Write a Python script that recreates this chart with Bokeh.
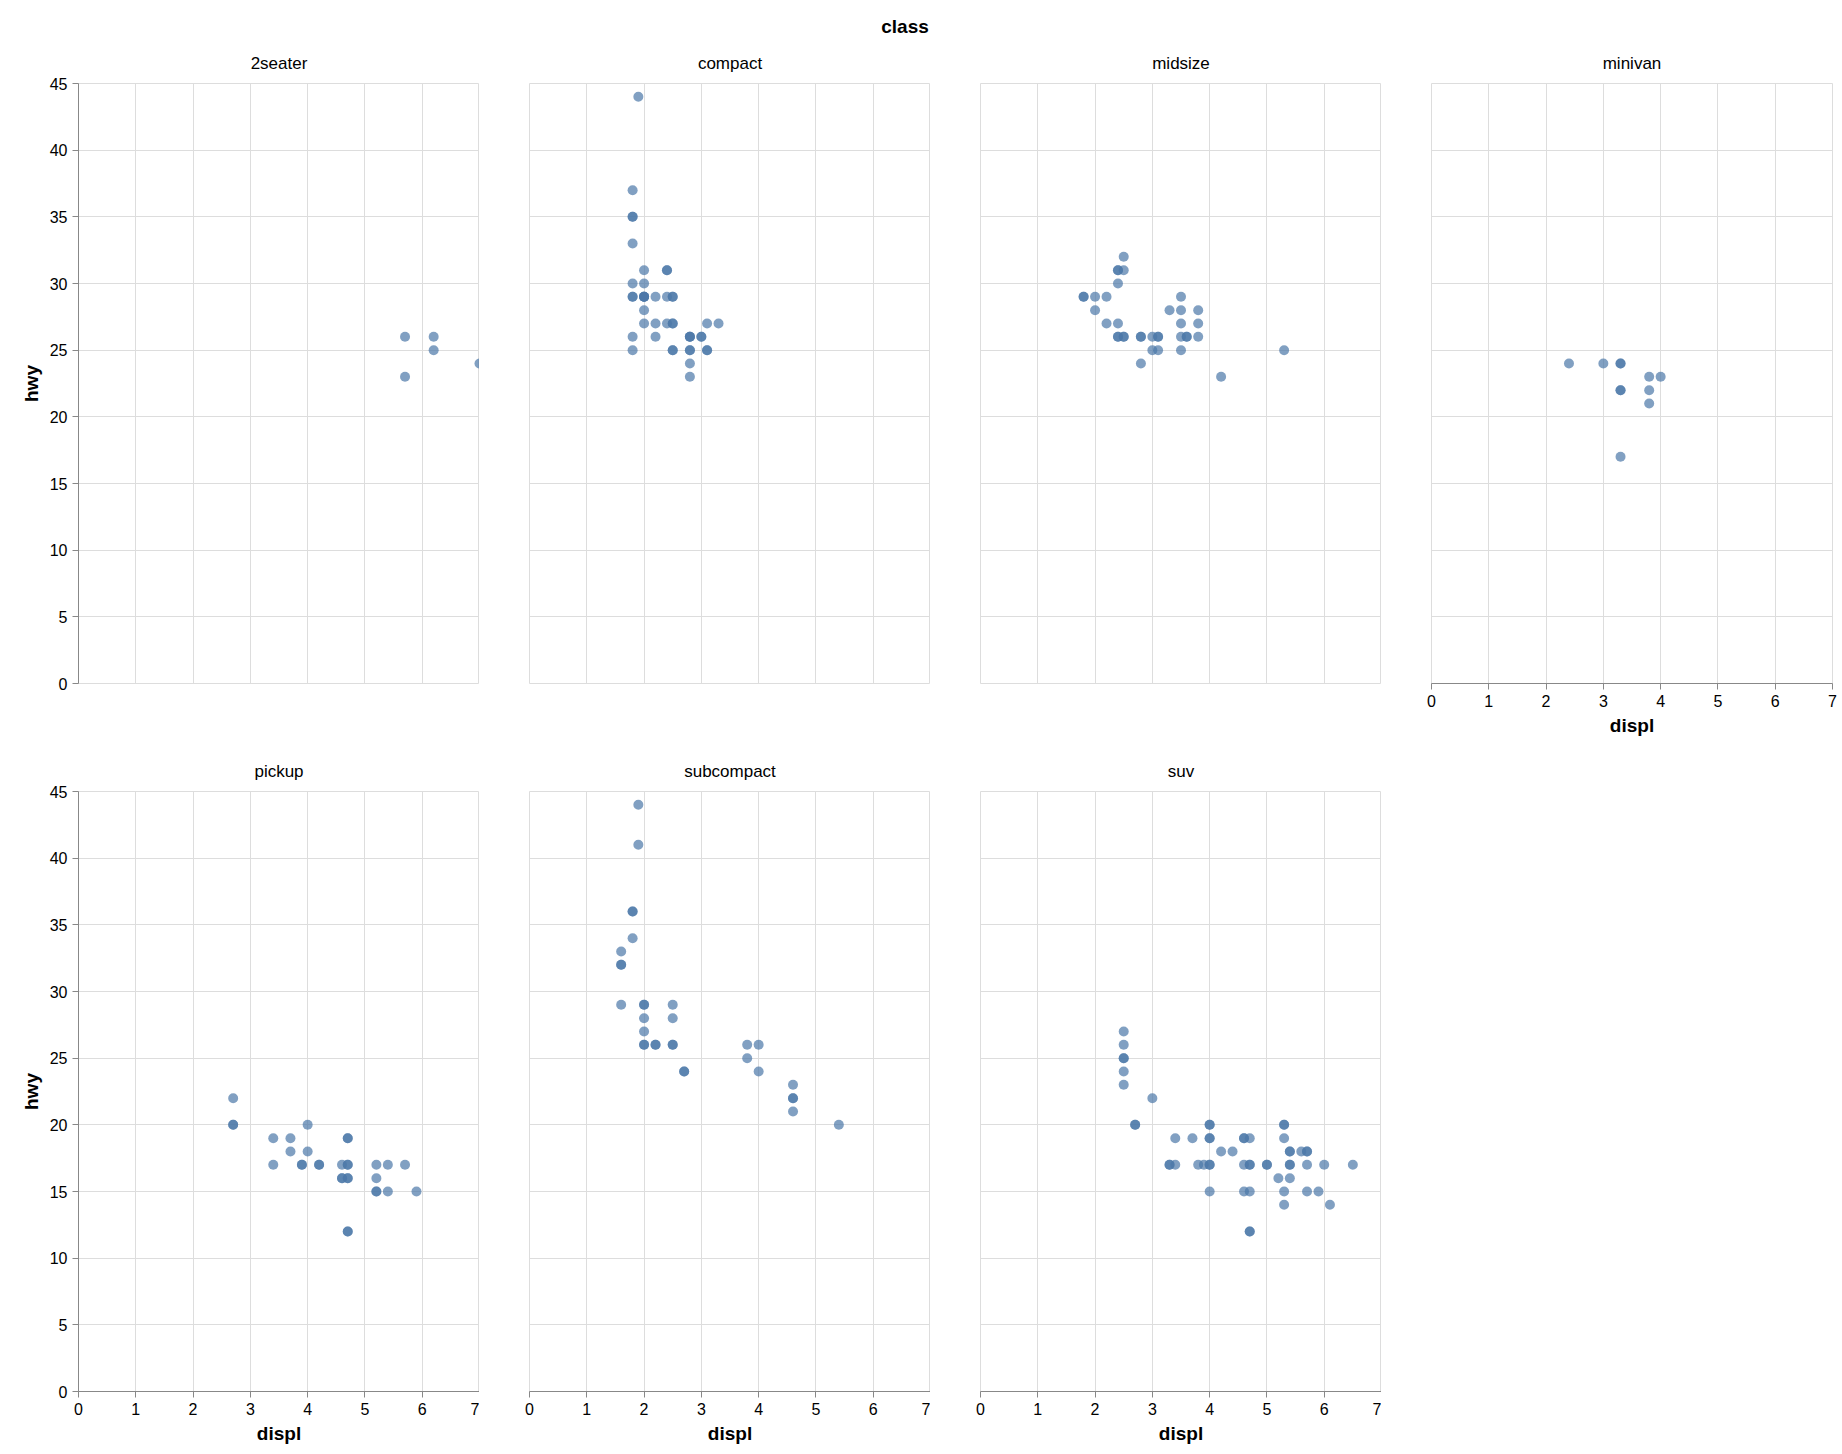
from bokeh.plotting import figure
from bokeh.layouts import gridplot, column
from bokeh.models import Div, FixedTicker
from bokeh.embed import file_html
from bokeh.resources import INLINE

classes = ["2seater", "compact", "midsize", "minivan", "pickup", "subcompact", "suv"]

seater_displ = [5.7, 5.7, 6.2, 6.2, 7.0]
seater_hwy = [26, 23, 26, 25, 24]

compact_displ = [1.8, 1.8, 2.0, 2.0, 2.8, 2.8, 3.1, 1.8, 1.8, 2.0, 2.0, 2.8, 2.8, 3.1, 3.1, 2.2, 2.2, 2.4, 2.4, 3.0, 3.0, 3.3,
                 1.8, 1.8, 1.8, 1.9, 2.0, 2.0, 2.0, 2.0, 2.5, 2.5, 2.5, 2.5, 2.8, 2.8, 2.2, 1.8, 1.8, 2.4, 2.4, 2.5, 2.5, 2.8]
compact_hwy = [29, 29, 31, 30, 26, 26, 27, 26, 25, 28, 27, 25, 25, 25, 25, 26, 27, 31, 31, 26, 26, 27,
               35, 37, 35, 44, 29, 29, 29, 29, 29, 27, 27, 25, 23, 24, 29, 33, 30, 27, 29, 29, 25, 26]

midsize_displ = [1.8, 1.8, 2.0, 2.0, 2.2, 2.2, 2.4, 2.4, 2.4, 2.4, 2.4, 2.5, 2.5, 2.5, 2.5, 2.8, 2.8, 2.8, 3.0, 3.0, 3.1, 3.1, 3.1,
                 3.3, 3.5, 3.5, 3.5, 3.5, 3.5, 3.6, 3.6, 3.8, 3.8, 3.8, 4.2, 5.3, 2.4]
midsize_hwy = [29, 29, 28, 29, 27, 29, 31, 30, 31, 27, 26, 32, 31, 26, 26, 26, 24, 26, 26, 25, 26, 25, 26,
               28, 29, 27, 28, 26, 25, 26, 26, 28, 27, 26, 23, 25, 26]

minivan_displ = [2.4, 3.0, 3.3, 3.3, 3.3, 3.3, 3.3, 3.8, 3.8, 3.8, 4.0]
minivan_hwy = [24, 24, 24, 24, 22, 22, 17, 22, 21, 23, 23]

pickup_displ = [2.7, 2.7, 2.7, 3.4, 3.4, 3.7, 3.7, 3.9, 3.9, 4.0, 4.0, 4.2, 4.2, 4.6, 4.6, 4.7, 4.7, 4.7, 4.7, 4.7, 4.7, 4.7, 4.7,
                5.2, 5.2, 5.2, 5.2, 5.4, 5.4, 5.7, 5.9, 4.6]
pickup_hwy = [22, 20, 20, 19, 17, 19, 18, 17, 17, 20, 18, 17, 17, 17, 16, 19, 19, 17, 17, 16, 16, 12, 12,
              17, 16, 15, 15, 17, 15, 17, 15, 16]

subcompact_displ = [1.9, 1.9, 1.8, 1.8, 1.8, 1.6, 1.6, 1.6, 1.6, 2.0, 2.0, 2.0, 2.0, 2.0, 2.0, 2.2, 2.2, 2.5, 2.5, 2.5, 2.5,
                    2.7, 2.7, 3.8, 3.8, 4.0, 4.0, 4.6, 4.6, 4.6, 4.6, 5.4]
subcompact_hwy = [44, 41, 36, 36, 34, 33, 32, 32, 29, 29, 29, 28, 27, 26, 26, 26, 26, 29, 28, 26, 26,
                  24, 24, 26, 25, 26, 24, 23, 22, 22, 21, 20]

suv_displ = [2.5, 2.5, 2.5, 2.5, 2.5, 2.5, 2.7, 2.7, 3.0, 3.3, 3.3, 3.4, 3.4, 3.7, 3.9, 4.0, 4.0, 4.0, 4.0, 4.0, 4.0, 4.0,
             4.2, 4.4, 4.6, 4.6, 4.6, 4.6, 4.7, 4.7, 4.7, 4.7, 4.7, 4.7, 5.0, 5.0, 5.2, 5.3, 5.3, 5.3, 5.3, 5.3,
             5.4, 5.4, 5.4, 5.4, 5.4, 5.6, 5.7, 5.7, 5.7, 5.7, 5.9, 6.0, 6.1, 6.5, 3.8]
suv_hwy = [27, 26, 25, 25, 24, 23, 20, 20, 22, 17, 17, 19, 17, 19, 17, 20, 20, 19, 19, 17, 17, 15,
           18, 18, 19, 19, 17, 15, 19, 17, 17, 15, 12, 12, 17, 17, 16, 20, 20, 19, 15, 14,
           18, 18, 17, 17, 16, 18, 18, 18, 17, 15, 15, 17, 14, 17, 17]

data = {
    "2seater": (seater_displ, seater_hwy),
    "compact": (compact_displ, compact_hwy),
    "midsize": (midsize_displ, midsize_hwy),
    "minivan": (minivan_displ, minivan_hwy),
    "pickup": (pickup_displ, pickup_hwy),
    "subcompact": (subcompact_displ, subcompact_hwy),
    "suv": (suv_displ, suv_hwy),
}

FONT = "Liberation Sans"
FW, FH = 401, 600

def make(name, idx):
    col, row = idx % 4, idx // 4
    show_y = col == 0
    show_x = row == 1 or col == 3
    p = figure(frame_width=FW, frame_height=FH, x_range=(0, 7), y_range=(0, 45),
               output_backend="svg", toolbar_location=None, title=name,
               min_border_left=78 if show_y else 50, min_border_right=10 if col == 3 else 0,
               min_border_bottom=65, min_border_top=10)
    p.title.align = "center"
    p.title.text_font = FONT
    p.title.text_font_size = "17px"
    p.title.text_font_style = "normal"
    p.title.text_color = "#000"
    p.title.standoff = 22
    p.outline_line_color = "#ddd"
    p.xaxis.ticker = FixedTicker(ticks=list(range(0, 8)))
    p.yaxis.ticker = FixedTicker(ticks=list(range(0, 46, 5)))
    p.grid.grid_line_color = "#ddd"
    for ax in p.axis:
        ax.axis_line_color = "#888"
        ax.major_tick_line_color = "#888"
        ax.minor_tick_line_color = None
        ax.major_label_text_font = FONT
        ax.major_label_text_font_size = "16px"
        ax.major_label_text_color = "#000"
        ax.axis_label_text_font = FONT
        ax.axis_label_text_font_size = "19px"
        ax.axis_label_text_font_style = "bold"
        ax.axis_label_text_color = "#000"
        ax.major_tick_out = 6
        ax.major_tick_in = 0
    p.xaxis.axis_label = "displ"
    p.yaxis.axis_label = "hwy"
    p.xaxis.visible = show_x
    p.yaxis.visible = show_y
    x, y = data[name]
    p.scatter(x, y, size=10, fill_color="#4c78a8", fill_alpha=0.7, line_color=None)
    return p

figs = [make(n, i) for i, n in enumerate(classes)]
grid = gridplot([figs[:4], figs[4:] + [None]], toolbar_location=None)
header = Div(text="<div style='width:1800px;text-align:center;font-family:Liberation Sans;font-weight:bold;font-size:19px;padding-top:8px'>class</div>",
             width=1800, height=30)
layout = column(header, grid)
open("out.html", "w").write(file_html(layout, INLINE))
